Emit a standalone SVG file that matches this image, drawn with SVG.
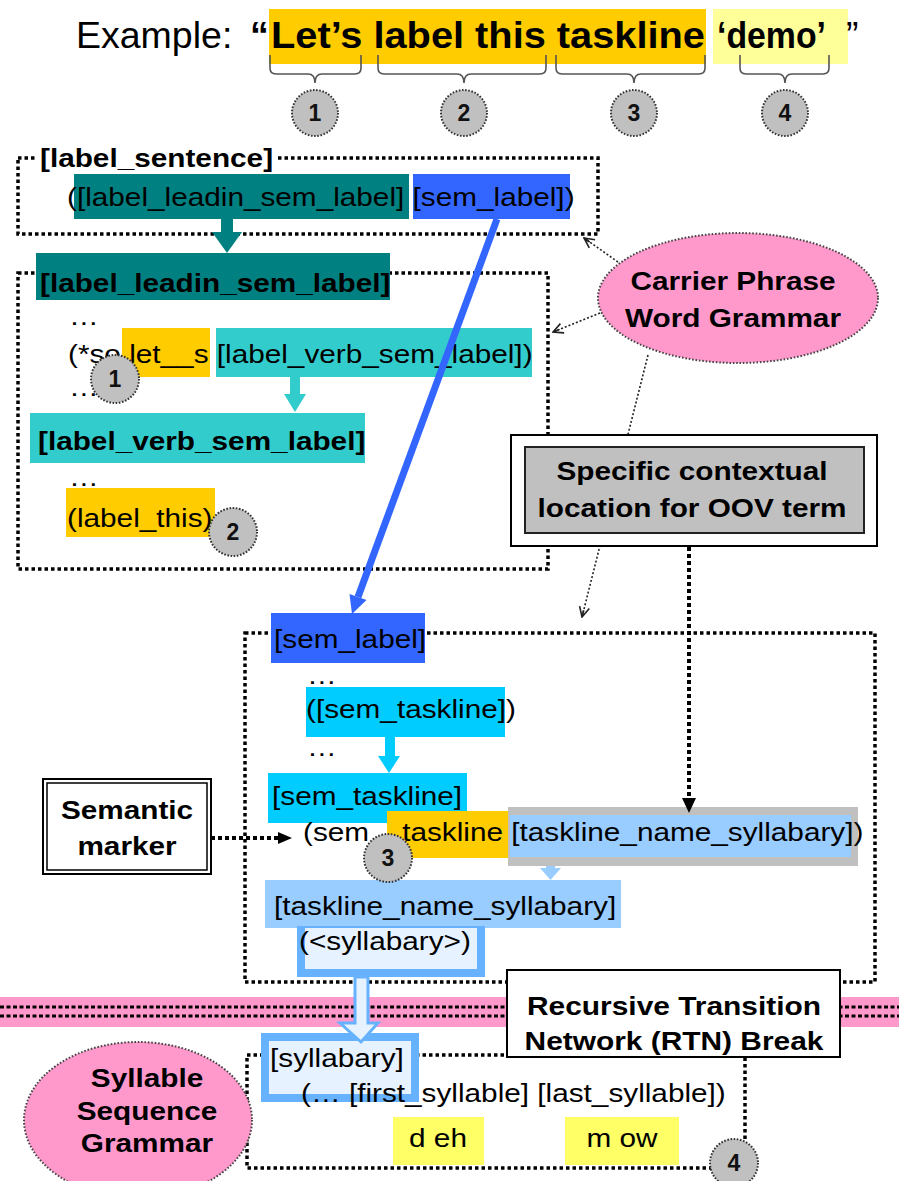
<svg xmlns="http://www.w3.org/2000/svg" width="899" height="1181" viewBox="0 0 899 1181">
  <defs>
    <style>
      .t { font-family: "Liberation Sans", Arial, sans-serif; font-size: 25px; fill: #000; }
      .b { font-weight: bold; }
      .mid { text-anchor: middle; }
      .big { font-size: 37.5px; }
      .rtn { font-size: 26px; }
      .dotbox { fill: none; stroke: #000; stroke-width: 3.5; stroke-dasharray: 3.5 3; }
      .thin { fill: none; stroke: #222; stroke-width: 1.6; stroke-dasharray: 2 2; }
      .thick { fill: none; stroke: #000; stroke-width: 4; stroke-dasharray: 4 3; }
      .brace { fill: none; stroke: #555; stroke-width: 1.6; }
      .badge circle { fill: #C0C0C0; stroke: #333; stroke-width: 2; stroke-dasharray: 1.6 1.6; }
      .badge text { font-family: "Liberation Sans", Arial, sans-serif; font-size: 23px; font-weight: bold; text-anchor: middle; fill: #111; }
      .bubble { fill: #FF99CC; stroke: #444; stroke-width: 2; stroke-dasharray: 1.6 1.8; }
    </style>
    <marker id="open" viewBox="0 0 12 12" refX="11" refY="6" markerWidth="12" markerHeight="12" markerUnits="userSpaceOnUse" orient="auto">
      <path d="M1,1 L11,6 L1,11 M11,6 L4,6" fill="none" stroke="#222" stroke-width="1.6"/>
    </marker>
  </defs>

  <rect width="899" height="1181" fill="#fff"/>

  <!-- pink RTN band with its double dotted rule -->
  <g id="rtn-band">
    <rect x="0" y="997" width="899" height="30" fill="#FF99CC"/>
    <line x1="0" y1="1007" x2="899" y2="1007" stroke="#000" stroke-width="3" stroke-dasharray="4 2.5"/>
    <line x1="0" y1="1016" x2="899" y2="1016" stroke="#000" stroke-width="3" stroke-dasharray="4 2.5"/>
  </g>

  <!-- example sentence -->
  <g id="example">
    <rect x="269" y="9" width="437" height="55" fill="#FFCC00"/>
    <rect x="713" y="9" width="135" height="55" fill="#FFFF99"/>
    <text class="t big" x="76" y="48">Example:</text>
    <text class="t big b" x="250" y="48">“</text>
    <text class="t big b" x="271" y="48" textLength="434" lengthAdjust="spacingAndGlyphs">Let’s label this taskline</text>
    <text class="t big b" x="717" y="48" textLength="109" lengthAdjust="spacingAndGlyphs">‘demo’</text>
    <text class="t big" x="846" y="48">”</text>
  </g>

  <!-- grammar rule frames -->
  <g id="rule-label-sentence">
    <rect class="dotbox" x="18" y="158" width="580" height="76"/>
    <rect x="36" y="146" width="240" height="22" fill="#fff"/>
    <rect x="74" y="174" width="335" height="45" fill="#008080"/>
    <rect x="413" y="174" width="157" height="45" fill="#3366FF"/>
    <text class="t b" transform="translate(40 167) scale(1.19 1)">[label_sentence]</text>
    <text class="t" transform="translate(67 206) scale(1.19 1)">([label_leadin_sem_label] [sem_label])</text>
  </g>

  <g id="rule-label-leadin">
    <rect class="dotbox" x="18" y="273" width="530" height="296"/>
    <rect x="36" y="253" width="354" height="47" fill="#008080"/>
    <text class="t b" transform="translate(40 292) scale(1.19 1)">[label_leadin_sem_label]</text>
    <text class="t" transform="translate(69 325) scale(1.19 1)">…</text>
    <rect x="122" y="328" width="88" height="49" fill="#FFCC00"/>
    <rect x="216" y="328" width="316" height="49" fill="#33CCCC"/>
    <text class="t" transform="translate(68 363) scale(1.19 1)">(*so let__s [label_verb_sem_label])</text>
    <text class="t" transform="translate(69 396) scale(1.19 1)">…</text>
    <rect x="30" y="413" width="335" height="50" fill="#33CCCC"/>
    <text class="t b" transform="translate(38 450) scale(1.19 1)">[label_verb_sem_label]</text>
    <text class="t" transform="translate(69 486) scale(1.19 1)">…</text>
    <rect x="66" y="488" width="149" height="49" fill="#FFCC00"/>
    <text class="t" transform="translate(67 527) scale(1.19 1)">(label_this)</text>
  </g>

  <g id="rule-sem-label">
    <rect class="dotbox" x="245" y="633" width="630" height="349"/>
    <rect x="271" y="613" width="154" height="50" fill="#3366FF"/>
    <text class="t" transform="translate(274 648) scale(1.19 1)">[sem_label]</text>
    <text class="t" transform="translate(307 684) scale(1.19 1)">…</text>
    <rect x="306" y="687" width="199" height="50" fill="#00CCFF"/>
    <text class="t" transform="translate(306 718) scale(1.19 1)">([sem_taskline])</text>
    <text class="t" transform="translate(307 756) scale(1.19 1)">…</text>
    <rect x="268" y="773" width="199" height="50" fill="#00CCFF"/>
    <text class="t" transform="translate(272 805) scale(1.19 1)">[sem_taskline]</text>
    <rect x="387" y="811" width="121" height="47" fill="#FFCC00"/>
    <rect x="508" y="807" width="350" height="59" fill="#C0C0C0"/>
    <rect x="510" y="815" width="341" height="42" fill="#99CCFF"/>
    <text class="t" transform="translate(303 841) scale(1.19 1)">(sem__taskline [taskline_name_syllabary])</text>
    <rect x="265" y="880" width="356" height="48" fill="#99CCFF"/>
    <text class="t" transform="translate(274 915) scale(1.19 1)">[taskline_name_syllabary]</text>
    <rect x="297" y="926" width="188" height="51" fill="#66B2FF"/>
    <rect x="305" y="928" width="172" height="41" fill="#E6F2FF"/>
    <text class="t" transform="translate(299 950) scale(1.19 1)">(&lt;syllabary&gt;)</text>
  </g>

  <g id="rule-syllabary">
    <rect class="dotbox" x="247" y="1055" width="498" height="113"/>
    <rect x="261" y="1033" width="158" height="69" fill="#66B2FF"/>
    <rect x="269" y="1041" width="142" height="53" fill="#E6F2FF"/>
    <text class="t" transform="translate(270 1067) scale(1.19 1)">[syllabary]</text>
    <text class="t" transform="translate(301 1102) scale(1.19 1)">(… [first_syllable] [last_syllable])</text>
    <rect x="393" y="1117" width="91" height="48" fill="#FFFF66"/>
    <rect x="565" y="1117" width="114" height="48" fill="#FFFF66"/>
    <text class="t mid" transform="translate(438 1147) scale(1.19 1)">d eh</text>
    <text class="t mid" transform="translate(622 1147) scale(1.19 1)">m ow</text>
  </g>

  <!-- annotation callouts -->
  <g id="carrier-phrase">
    <ellipse class="bubble" cx="738" cy="298" rx="140" ry="65"/>
    <text class="t b mid" transform="translate(733 290) scale(1.19 1)">Carrier Phrase</text>
    <text class="t b mid" transform="translate(733 327) scale(1.19 1)">Word Grammar</text>
  </g>

  <g id="syllable-sequence">
    <ellipse class="bubble" cx="138" cy="1120" rx="114" ry="78"/>
    <text class="t b mid" transform="translate(147 1087) scale(1.19 1)">Syllable</text>
    <text class="t b mid" transform="translate(147 1120) scale(1.19 1)">Sequence</text>
    <text class="t b mid" transform="translate(147 1152) scale(1.19 1)">Grammar</text>
  </g>

  <!-- connectors -->
  <g id="connectors">
    <path class="brace" d="M270,55 V68 Q270,74 276,74 H308 Q315,74 315,83 Q315,74 322,74 H355 Q361,74 361,68 V55"/>
    <path class="brace" d="M378,55 V68 Q378,74 384,74 H457 Q464,74 464,83 Q464,74 471,74 H540 Q546,74 546,68 V55"/>
    <path class="brace" d="M556,55 V68 Q556,74 562,74 H627 Q634,74 634,83 Q634,74 641,74 H699 Q705,74 705,68 V55"/>
    <path class="brace" d="M740,55 V68 Q740,74 746,74 H778 Q785,74 785,83 Q785,74 792,74 H823 Q829,74 829,68 V55"/>

    <!-- rule expansion arrows -->
    <rect x="221" y="219" width="12" height="14" fill="#008080"/>
    <polygon points="212,232 242,232 227,253" fill="#008080"/>
    <rect x="290" y="377" width="10" height="17" fill="#33CCCC"/>
    <polygon points="284,394 306,394 295,412" fill="#33CCCC"/>
    <line x1="497" y1="219" x2="358" y2="597" stroke="#3366FF" stroke-width="7"/>
    <polygon points="366.5,600 349.5,594 352,614" fill="#3366FF"/>
    <rect x="385" y="737" width="10" height="19" fill="#00CCFF"/>
    <polygon points="378,756 400,756 389,773" fill="#00CCFF"/>
    <rect x="546" y="866" width="9" height="3" fill="#99CCFF"/>
    <polygon points="540,868 561,868 550.5,880" fill="#99CCFF"/>
    <polygon points="355,977 355,1023 340,1023 361,1042 378,1023 368,1023 368,977" fill="#E6F2FF" stroke="#66B2FF" stroke-width="3"/>

    <!-- callout pointers -->
    <line class="thin" x1="618" y1="262" x2="584" y2="238" marker-end="url(#open)"/>
    <line class="thin" x1="600" y1="313" x2="553" y2="332" marker-end="url(#open)"/>
    <line class="thin" x1="648" y1="355" x2="582" y2="617" marker-end="url(#open)"/>
    <line class="thick" x1="211" y1="838" x2="280" y2="838"/>
    <polygon points="278,832 292,838 278,844" fill="#000"/>
    <line class="thick" x1="689" y1="547" x2="689" y2="800"/>
    <polygon points="682,798 689,813 696,798" fill="#000"/>
  </g>

  <g id="oov-location">
    <rect x="511" y="435" width="366" height="111" fill="#fff" stroke="#000" stroke-width="2"/>
    <rect x="525" y="447" width="339" height="86" fill="#C0C0C0" stroke="#222" stroke-width="2"/>
    <text class="t b mid" transform="translate(692 480) scale(1.19 1)">Specific contextual</text>
    <text class="t b mid" transform="translate(692 517) scale(1.19 1)">location for OOV term</text>
  </g>

  <g id="semantic-marker">
    <rect x="43" y="779" width="168" height="95" fill="#fff" stroke="#000" stroke-width="2"/>
    <rect x="47" y="783" width="160" height="87" fill="none" stroke="#000" stroke-width="1.5"/>
    <text class="t b mid" transform="translate(127 819) scale(1.19 1)">Semantic</text>
    <text class="t b mid" transform="translate(127 855) scale(1.19 1)">marker</text>
  </g>

  <g id="rtn-break">
    <rect x="507" y="970" width="333" height="87" fill="#fff" stroke="#000" stroke-width="2"/>
    <text class="t b mid rtn" transform="translate(674 1015) scale(1.15 1)">Recursive Transition</text>
    <text class="t b mid rtn" transform="translate(674 1050) scale(1.15 1)">Network (RTN) Break</text>
  </g>

  <!-- numbered badges -->
  <g id="badge-top-1" class="badge"><circle cx="315" cy="113" r="23"/><text x="315" y="121">1</text></g>
  <g id="badge-top-2" class="badge"><circle cx="464" cy="113" r="23"/><text x="464" y="121">2</text></g>
  <g id="badge-top-3" class="badge"><circle cx="634" cy="113" r="23"/><text x="634" y="121">3</text></g>
  <g id="badge-top-4" class="badge"><circle cx="785" cy="113" r="23"/><text x="785" y="121">4</text></g>
  <g id="badge-1" class="badge"><circle cx="115" cy="379" r="24"/><text x="115" y="387">1</text></g>
  <g id="badge-2" class="badge"><circle cx="233" cy="532" r="24"/><text x="233" y="540">2</text></g>
  <g id="badge-3" class="badge"><circle cx="388" cy="858" r="24"/><text x="388" y="866">3</text></g>
  <g id="badge-4" class="badge"><circle cx="734" cy="1163" r="24"/><text x="734" y="1171">4</text></g>
</svg>
